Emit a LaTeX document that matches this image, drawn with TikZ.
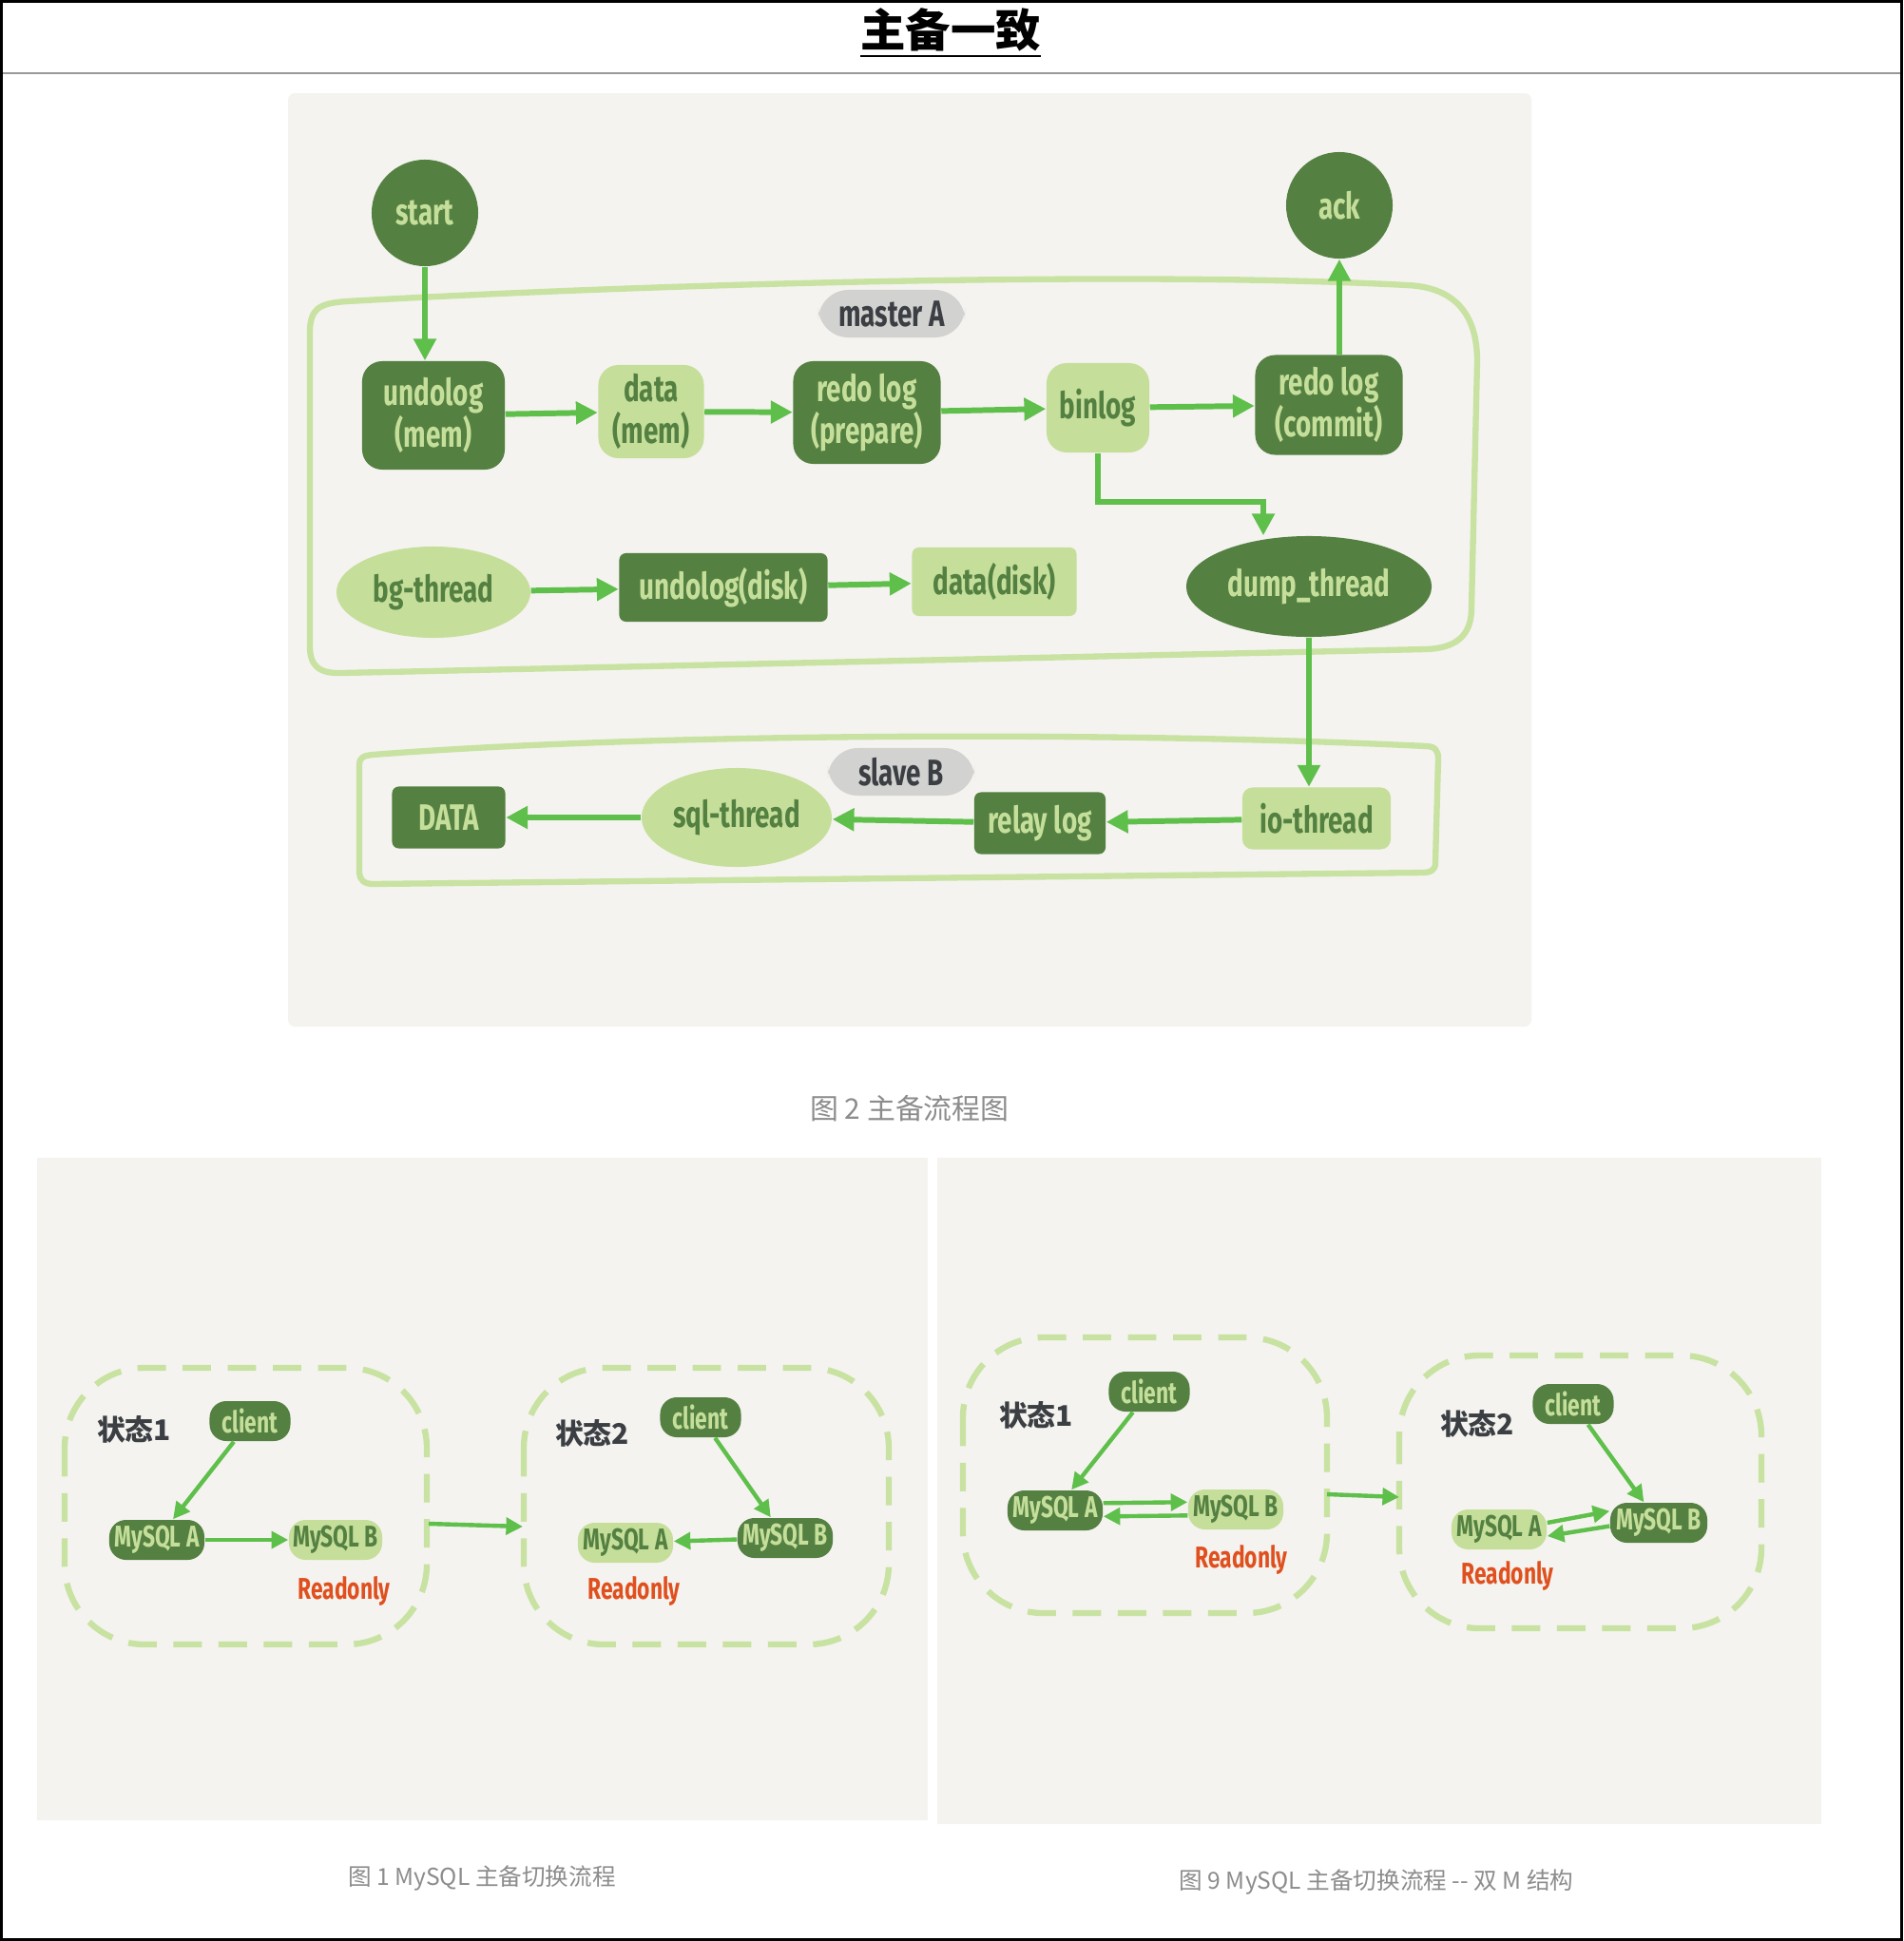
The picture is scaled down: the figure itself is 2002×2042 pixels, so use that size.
\documentclass[tikz,border=0pt]{standalone}
\usepackage{fontspec}
\setmainfont{Fira Sans}
\newfontfamily\cjk{Noto Sans CJK SC}
\newfontfamily\hand{Fira Sans}[FakeStretch=0.72]
\usetikzlibrary{arrows.meta,shapes.geometric}
\definecolor{panelbg}{HTML}{F4F3EF}
\definecolor{dgreen}{HTML}{548041}
\definecolor{lgreen}{HTML}{C5DF9B}
\definecolor{agreen}{HTML}{5FBF4B}
\definecolor{boxline}{HTML}{C8E2A2}
\definecolor{pillgray}{HTML}{D2D2D0}
\definecolor{inkgray}{HTML}{3B3F44}
\definecolor{rdorange}{HTML}{E0501E}
\definecolor{capgray}{HTML}{8C8C8C}
\tikzset{
  darkbox/.style={fill=dgreen, text=lgreen, rounded corners=6pt, inner sep=0pt, align=center,
    font=\hand\bfseries\fontsize{11}{12.5}\selectfont},
  lightbox/.style={darkbox, fill=lgreen, text=dgreen},
  darkoval/.style={darkbox, ellipse},
  lightoval/.style={lightbox, ellipse},
  pill/.style={fill=pillgray, text=inkgray, rounded corners=9pt, inner sep=0pt,
    minimum width=1.54cm, minimum height=0.5cm, font=\hand\bfseries\fontsize{11}{12}\selectfont},
  flow/.style={draw=agreen, line width=1.7pt, -{Triangle[length=6.5pt,width=6.5pt]}},
  thinflow/.style={draw=agreen, line width=1.25pt, -{Triangle[length=5pt,width=5pt]}},
  container/.style={draw=boxline, line width=1.8pt, line join=round},
  group/.style={draw=boxline, line width=1.8pt, dash pattern=on 8.5pt off 5pt, rounded corners=24pt},
  smalldark/.style={darkbox, rounded corners=5pt, font=\hand\bfseries\fontsize{9}{10}\selectfont,
    minimum height=0.42cm},
  smalllight/.style={smalldark, fill=lgreen, text=dgreen},
  state/.style={text=inkgray, font=\cjk\bfseries\fontsize{8.5}{9}\selectfont},
  readonly/.style={text=rdorange, font=\hand\bfseries\fontsize{9}{10}\selectfont},
  caption/.style={text=capgray, font=\cjk\fontsize{7}{8}\selectfont}
}
\begin{document}
\begin{tikzpicture}[x=0.01cm,y=-0.01cm]
\useasboundingbox (0,0) rectangle (2002,2042);
\fill[white] (0,0) rectangle (2002,2042);
% title bar
\node[font=\cjk\bfseries\fontsize{13.5}{14}\selectfont] (title) at (1000,35) {\underline{主备一致}};
\draw[gray!80, line width=0.6pt] (3,77) -- (1999,77);
% panels
\fill[panelbg, rounded corners=2pt] (303,98) rectangle (1611,1080);
\fill[panelbg] (39,1218) rectangle (976,1915);
\fill[panelbg] (986,1218) rectangle (1916,1919);
% master A
\draw[container] (326,680) -- (326,350) .. controls (326,325) and (335,319) .. (365,317)
  .. controls (700,298) and (1200,285) .. (1480,300)
  .. controls (1530,302) and (1554,330) .. (1554,380) -- (1548,640)
  .. controls (1548,670) and (1530,682) .. (1500,683) -- (360,708)
  .. controls (335,709) and (326,700) .. (326,680) -- cycle;
\node[pill] (master) at (938,330) {master A};
% slave B
\draw[container] (378,918) -- (378,805) .. controls (378,797) and (382,795) .. (392,794)
  .. controls (700,770) and (1200,770) .. (1500,785)
  .. controls (1510,785) and (1513,790) .. (1513,798) -- (1510,908)
  .. controls (1510,915) and (1505,918) .. (1498,918) -- (392,930)
  .. controls (383,930) and (378,925) .. (378,918) -- cycle;
\node[pill] (slave) at (948,812) {slave B};
% nodes of figure 2
\node[darkbox, circle, minimum size=1.12cm] (start) at (447,224) {start};
\node[darkbox, circle, minimum size=1.12cm] (ack) at (1409,216) {ack};
\node[darkbox, minimum width=1.5cm, minimum height=1.14cm] (umem) at (456,437) {undolog\\(mem)};
\node[lightbox, minimum width=1.11cm, minimum height=0.98cm] (dmem) at (685,433) {data\\(mem)};
\node[darkbox, minimum width=1.55cm, minimum height=1.08cm] (rprep) at (912,434) {redo log\\(prepare)};
\node[lightbox, minimum width=1.08cm, minimum height=0.94cm] (binlog) at (1155,429) {binlog};
\node[darkbox, minimum width=1.55cm, minimum height=1.05cm] (rcommit) at (1398,426) {redo log\\(commit)};
\node[lightoval, minimum width=2.04cm, minimum height=0.96cm] (bg) at (456,623) {bg-thread};
\node[darkbox, rounded corners=2pt, minimum width=2.19cm, minimum height=0.72cm] (udisk) at (761,618) {undolog(disk)};
\node[lightbox, rounded corners=2pt, minimum width=1.73cm, minimum height=0.72cm] (ddisk) at (1046,612) {data(disk)};
\node[darkoval, minimum width=2.58cm, minimum height=1.06cm] (dump) at (1377,617) {dump\_thread};
\node[darkbox, rounded corners=2pt, minimum width=1.19cm, minimum height=0.65cm] (data) at (472,860) {DATA};
\node[lightoval, minimum width=2.0cm, minimum height=1.04cm] (sql) at (775,860) {sql-thread};
\node[darkbox, rounded corners=2pt, minimum width=1.38cm, minimum height=0.65cm] (relay) at (1094,866) {relay log};
\node[lightbox, rounded corners=3pt, minimum width=1.56cm, minimum height=0.65cm] (io) at (1385,861) {io-thread};
% arrows of figure 2
\draw[flow] (start.south) -- (start.south |- umem.north);
\draw[flow] (umem) -- (dmem);
\draw[flow] (dmem) -- (rprep);
\draw[flow] (rprep) -- (binlog);
\draw[flow] (binlog) -- (rcommit);
\draw[flow] (ack.south |- rcommit.north) -- (ack.south);
\coordinate (turn) at (1329,528);
\draw[flow] (binlog.south) |- (turn) -- (turn |- dump.north);
\draw[flow] (bg) -- (udisk);
\draw[flow] (udisk) -- (ddisk);
\draw[flow] (dump.south) -- (dump.south |- io.north);
\draw[flow] (io) -- (relay);
\draw[flow] (relay) -- (sql);
\draw[flow] (sql) -- (data);
\node[text=capgray, font=\cjk\fontsize{8.5}{9}\selectfont] (cap2) at (957,1166) {图 2 主备流程图};
% figure 1
\draw[group] (68,1439) rectangle (449,1730);
\draw[group] (551,1439) rectangle (935,1730);
\node[state] (s11) at (141,1504) {状态1};
\node[smalldark, minimum width=0.85cm] (c11) at (263,1495) {client};
\node[smalldark, minimum width=1.0cm] (a11) at (165,1620) {MySQL A};
\node[smalllight, minimum width=0.98cm] (b11) at (353,1620) {MySQL B};
\node[readonly] (r11) at (362,1674) {Readonly};
\draw[thinflow] (c11) -- (a11);
\draw[thinflow] (a11) -- (b11);
\node[state] (s12) at (623,1508) {状态2};
\node[smalldark, minimum width=0.85cm] (c12) at (737,1491) {client};
\node[smalllight, minimum width=1.0cm] (a12) at (658,1623) {MySQL A};
\node[smalldark, minimum width=1.0cm] (b12) at (826,1618) {MySQL B};
\node[readonly] (r12) at (667,1674) {Readonly};
\draw[thinflow] (c12) -- (b12);
\draw[thinflow] (b12) -- (a12);
\coordinate (g11) at (451,1603);
\coordinate (g12) at (550,1606);
\draw[thinflow] (g11) -- (g12);
\node[caption] (cap1) at (507,1976) {图 1 MySQL 主备切换流程};
% figure 9
\draw[group] (1013,1407) rectangle (1396,1697);
\draw[group] (1472,1426) rectangle (1853,1713);
\node[state] (s91) at (1090,1489) {状态1};
\node[smalldark, minimum width=0.85cm] (c91) at (1209,1464) {client};
\node[smalldark, minimum width=1.0cm] (a91) at (1110,1589) {MySQL A};
\node[smalllight, minimum width=1.0cm] (b91) at (1300,1588) {MySQL B};
\node[readonly] (r91) at (1306,1641) {Readonly};
\draw[thinflow] (c91) -- (a91);
\draw[thinflow] ([yshift=2.2pt]a91.east) -- ([yshift=2.2pt]b91.west);
\draw[thinflow] ([yshift=-1.8pt]b91.west) -- ([yshift=-1.8pt]a91.east);
\node[state] (s92) at (1554,1498) {状态2};
\node[smalldark, minimum width=0.85cm] (c92) at (1655,1477) {client};
\node[smalllight, minimum width=1.0cm] (a92) at (1577,1609) {MySQL A};
\node[smalldark, minimum width=1.02cm] (b92) at (1745,1602) {MySQL B};
\node[readonly] (r92) at (1586,1658) {Readonly};
\draw[thinflow] (c92) -- (b92);
\draw[thinflow] ([yshift=2pt]a92.east) -- ([yshift=3.5pt]b92.west);
\draw[thinflow] ([yshift=-1pt]b92.west) -- ([yshift=-2pt]a92.east);
\coordinate (g91) at (1396,1572);
\coordinate (g92) at (1472,1575);
\draw[thinflow] (g91) -- (g92);
\node[caption] (cap9) at (1448,1980) {图 9 MySQL 主备切换流程 -- 双 M 结构};
% outer frame
\draw[line width=0.85pt] (1.5,1.5) rectangle (2000.5,2040.5);
\end{tikzpicture}
\end{document}
